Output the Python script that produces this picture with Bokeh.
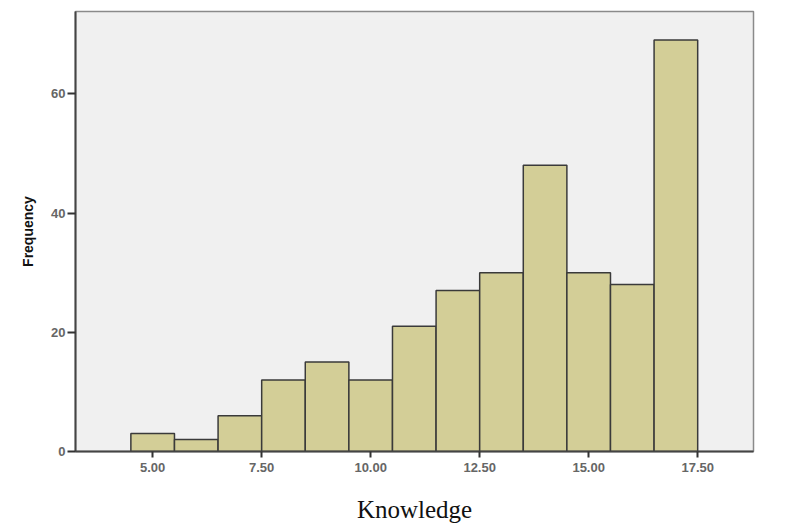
from bokeh.plotting import figure
from bokeh.models import FixedTicker, NumeralTickFormatter, Range1d, ColumnDataSource
from bokeh.embed import file_html
from bokeh.resources import INLINE

bin_centers = [5, 6, 7, 8, 9, 10, 11, 12, 13, 14, 15, 16, 17]
frequencies = [3, 2, 6, 12, 15, 12, 21, 27, 30, 48, 30, 28, 69]
x_ticks = [5.0, 7.5, 10.0, 12.5, 15.0, 17.5]
y_ticks = [0, 20, 40, 60]

src = ColumnDataSource(dict(x=bin_centers, top=frequencies))

p = figure(width=806, height=527, output_backend="svg", toolbar_location=None,
           x_range=Range1d(3.23, 18.78), y_range=Range1d(0, 73.8),
           min_border_left=75, min_border_right=53, min_border_top=11, min_border_bottom=76)

p.vbar(x="x", top="top", width=1.0, bottom=0, source=src,
       fill_color="#D3CE97", line_color="#3a3a3a", line_width=1.5)

p.background_fill_color = "#F0F0F0"
p.border_fill_color = "white"
p.outline_line_color = "#8a8a8a"
p.outline_line_width = 1.5
p.grid.visible = False

p.xaxis.ticker = FixedTicker(ticks=x_ticks)
p.xaxis.formatter = NumeralTickFormatter(format="0.00")
p.yaxis.ticker = FixedTicker(ticks=y_ticks)

for ax in (p.xaxis, p.yaxis):
    ax.major_label_text_font = "Liberation Sans"
    ax.major_label_text_font_size = "13px"
    ax.major_label_text_font_style = "bold"
    ax.major_label_text_color = "#666666"
    ax.minor_tick_line_color = None
    ax.major_tick_line_color = "#333333"
    ax.major_tick_line_width = 2
    ax.major_tick_in = 0
    ax.axis_line_color = "#444444"
    ax.axis_line_width = 2

p.yaxis.major_tick_out = 8
p.xaxis.major_tick_out = 6
p.xaxis.major_label_standoff = 5
p.yaxis.major_label_standoff = 2

p.yaxis.axis_label = "Frequency"
p.yaxis.axis_label_text_font = "Liberation Sans"
p.yaxis.axis_label_text_font_style = "bold"
p.yaxis.axis_label_text_font_size = "14px"
p.yaxis.axis_label_text_color = "#111111"
p.yaxis.axis_label_standoff = 12

p.xaxis.axis_label = "Knowledge"
p.xaxis.axis_label_text_font = "Liberation Serif"
p.xaxis.axis_label_text_font_style = "normal"
p.xaxis.axis_label_text_font_size = "25px"
p.xaxis.axis_label_text_color = "#111111"
p.xaxis.axis_label_standoff = 21

open("out.html", "w").write(file_html(p, INLINE))
